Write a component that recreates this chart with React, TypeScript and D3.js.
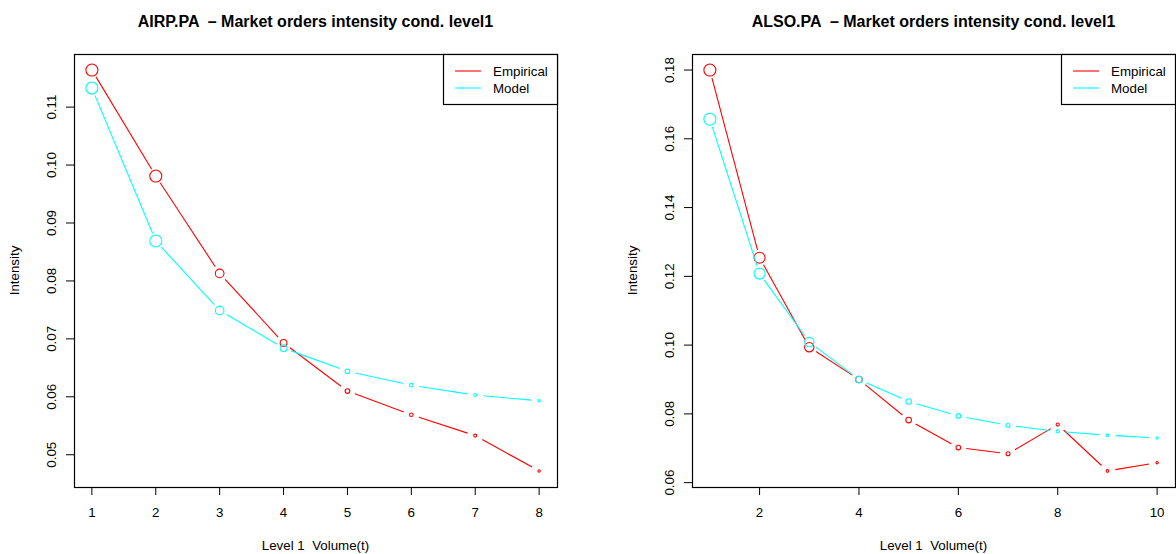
import React from "react";
import * as d3 from "d3";

// ---- Data ----
const xLeft = [1, 2, 3, 4, 5, 6, 7, 8];
const empiricalLeft = [0.1164, 0.0981, 0.0813, 0.0693, 0.061, 0.0569, 0.0533, 0.0472];
const modelLeft = [0.1133, 0.0869, 0.0749, 0.0684, 0.0644, 0.062, 0.0603, 0.0593];
const cexLeft = [1.6, 1.6, 1.15, 0.9, 0.62, 0.48, 0.4, 0.32];
const xTicksLeft = [1, 2, 3, 4, 5, 6, 7, 8];
const yTicksLeft = [0.05, 0.06, 0.07, 0.08, 0.09, 0.1, 0.11];

const xRight = [1, 2, 3, 4, 5, 6, 7, 8, 9, 10];
const empiricalRight = [0.18, 0.1254, 0.0994, 0.09, 0.0782, 0.0702, 0.0684, 0.0769, 0.0634, 0.0658];
const modelRight = [0.1657, 0.1208, 0.1009, 0.09, 0.0836, 0.0794, 0.0767, 0.0749, 0.0738, 0.073];
const cexRight = [1.6, 1.47, 1.25, 0.88, 0.75, 0.62, 0.53, 0.43, 0.35, 0.3];
const xTicksRight = [2, 4, 6, 8, 10];
const yTicksRight = [0.06, 0.08, 0.1, 0.12, 0.14, 0.16, 0.18];

const seriesNames = ["Empirical", "Model"];
const seriesColors = ["#FF0000", "#00FFFF"];

const FONT = "'Liberation Sans', Arial, Helvetica, sans-serif";
const BASE = 13.33;
const GAP = 8;
const RADIUS_PER_CEX = 3.75;
const PRE: React.CSSProperties = { whiteSpace: "pre" };

function rExtend(lo: number, hi: number): [number, number] {
  const d = (hi - lo) * 0.04;
  return [lo - d, hi + d];
}

type PanelProps = {
  left: number;
  right: number;
  top: number;
  bottom: number;
  title: string;
  xs: number[];
  series: number[][];
  cex: number[];
  xTicks: number[];
  yTicks: number[];
};

function Panel(p: PanelProps) {
  const xDom = rExtend(d3.min(p.xs)!, d3.max(p.xs)!);
  const all = p.series.flat();
  const yDom = rExtend(d3.min(all)!, d3.max(all)!);
  const x = d3.scaleLinear().domain(xDom).range([p.left, p.right]);
  const y = d3.scaleLinear().domain(yDom).range([p.bottom, p.top]);
  const fmt = d3.format(".2f");
  const cx = (p.left + p.right) / 2;
  const cy = (p.top + p.bottom) / 2;

  const segs = (vals: number[]) => {
    const out: { x1: number; y1: number; x2: number; y2: number }[] = [];
    for (let i = 0; i < vals.length - 1; i++) {
      const ax = x(p.xs[i]), ay = y(vals[i]);
      const bx = x(p.xs[i + 1]), by = y(vals[i + 1]);
      const len = Math.hypot(bx - ax, by - ay);
      if (len <= 2 * GAP) continue;
      const ux = (bx - ax) / len, uy = (by - ay) / len;
      out.push({ x1: ax + ux * GAP, y1: ay + uy * GAP, x2: bx - ux * GAP, y2: by - uy * GAP });
    }
    return out;
  };

  const legL = p.right - 114;
  const legB = p.top + 50;

  return (
    <g>
      <text x={cx} y={26.5} textAnchor="middle" fontFamily={FONT} fontWeight="bold" fontSize={16} style={PRE}>
        {p.title}
      </text>
      {/* series */}
      {p.series.map((vals, si) => (
        <g key={si} stroke={seriesColors[si]} fill="none" strokeWidth={1.1}>
          {segs(vals).map((s, i) => (
            <line key={i} x1={s.x1} y1={s.y1} x2={s.x2} y2={s.y2} />
          ))}
          {vals.map((v, i) => (
            <circle key={i} cx={x(p.xs[i])} cy={y(v)} r={p.cex[i] * RADIUS_PER_CEX} />
          ))}
        </g>
      ))}
      {/* box */}
      <rect
        x={p.left + 0.5}
        y={p.top + 0.5}
        width={p.right - p.left}
        height={p.bottom - p.top}
        fill="none"
        stroke="#000"
        strokeWidth={1.2}
      />
      {/* axes */}
      <g fontFamily={FONT} fontSize={BASE}>
        {p.xTicks.map((t) => (
          <g key={t}>
            <line x1={x(t)} x2={x(t)} y1={p.bottom} y2={p.bottom + 8} stroke="#000" />
            <text x={x(t)} y={p.bottom + 30} textAnchor="middle">
              {t}
            </text>
          </g>
        ))}
        <text x={cx} y={p.bottom + 62.5} textAnchor="middle" style={PRE}>
          Level 1  Volume(t)
        </text>
        {p.yTicks.map((t) => (
          <g key={t}>
            <line x1={p.left - 8} x2={p.left} y1={y(t)} y2={y(t)} stroke="#000" />
            <text
              transform={`translate(${p.left - 18.5},${y(t)}) rotate(-90)`}
              textAnchor="middle"
            >
              {fmt(t)}
            </text>
          </g>
        ))}
        <text transform={`translate(${p.left - 55},${cy}) rotate(-90)`} textAnchor="middle">
          Intensity
        </text>
      </g>
      {/* legend */}
      <rect
        x={legL + 0.5}
        y={p.top + 0.5}
        width={p.right - legL}
        height={legB - p.top}
        fill="#fff"
        stroke="#000"
        strokeWidth={1.2}
      />
      {seriesNames.map((n, i) => (
        <g key={n}>
          <line
            x1={legL + 12}
            x2={legL + 38}
            y1={p.top + 17 + i * 17}
            y2={p.top + 17 + i * 17}
            stroke={seriesColors[i]}
            strokeWidth={1.1}
          />
          <text x={legL + 50} y={p.top + 21.5 + i * 17} fontFamily={FONT} fontSize={BASE}>
            {n}
          </text>
        </g>
      ))}
    </g>
  );
}

export default function App() {
  return (
    <svg
      width={1176}
      height={554}
      style={{ position: "absolute", left: 0, top: 0, background: "#fff" }}
    >
      <rect x={0} y={0} width={1176} height={554} fill="#fff" />
      <Panel
        left={74}
        right={557}
        top={54}
        bottom={487}
        title="AIRP.PA  – Market orders intensity cond. level1"
        xs={xLeft}
        series={[empiricalLeft, modelLeft]}
        cex={cexLeft}
        xTicks={xTicksLeft}
        yTicks={yTicksLeft}
      />
      <Panel
        left={692}
        right={1175}
        top={54}
        bottom={487}
        title="ALSO.PA  – Market orders intensity cond. level1"
        xs={xRight}
        series={[empiricalRight, modelRight]}
        cex={cexRight}
        xTicks={xTicksRight}
        yTicks={yTicksRight}
      />
    </svg>
  );
}
